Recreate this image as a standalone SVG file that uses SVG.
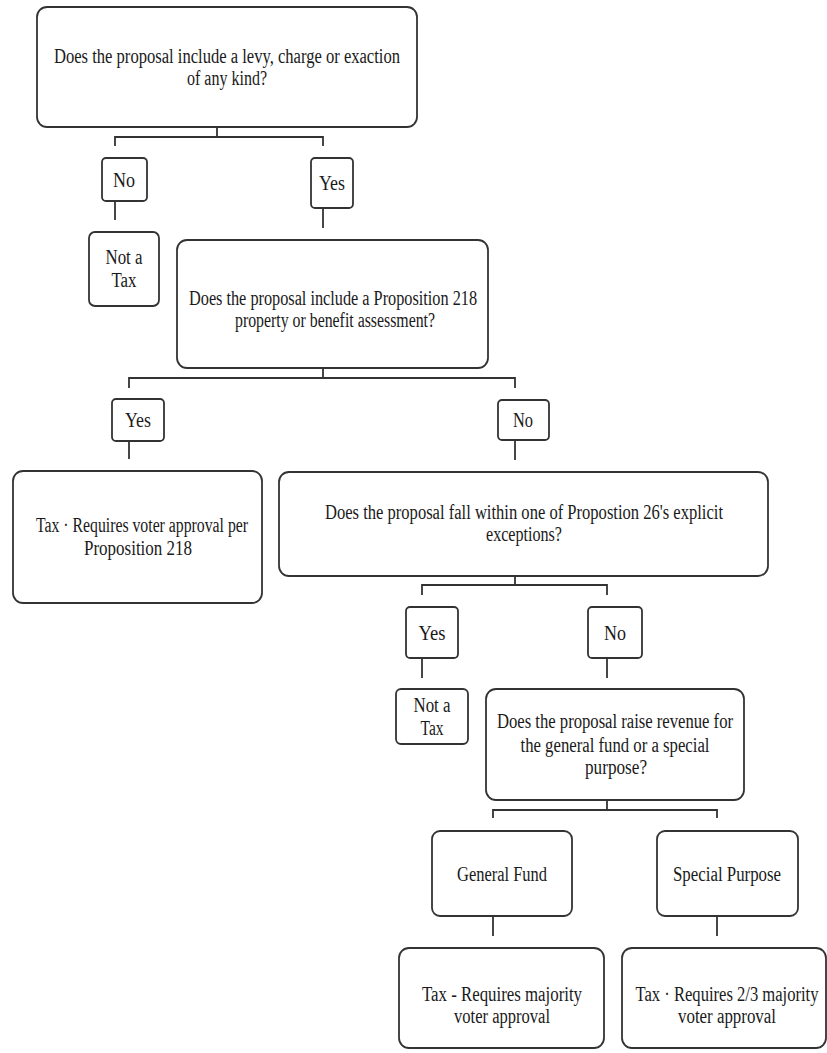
<svg xmlns="http://www.w3.org/2000/svg" width="827" height="1053" viewBox="0 0 827 1053">
<style>
.b{fill:#fff;stroke:#333;stroke-width:1.8}
.t{font-family:"Liberation Serif","Times New Roman",serif;font-size:17px;fill:#1a1a1a;text-anchor:middle}
.c{fill:none;stroke:#333;stroke-width:1.8}
</style>
<rect width="827" height="1053" fill="#fff"/>
<g id="connectors">
<path class="c" d="M217,127V137M115,146V137H323V146"/>
<path class="c" d="M115,201V220"/>
<path class="c" d="M323,208V228"/>
<path class="c" d="M323,368V378M129,388V378H515V388"/>
<path class="c" d="M129,441V459"/>
<path class="c" d="M515,440V460"/>
<path class="c" d="M515,576V585M422,595V585H607V595"/>
<path class="c" d="M422,658V678"/>
<path class="c" d="M607,658V678"/>
<path class="c" d="M607,800V810M493,818V810H717V818"/>
<path class="c" d="M493,916V936"/>
<path class="c" d="M717,916V936"/>
</g>
<g id="q1">
<rect class="b" x="37" y="7" width="380" height="120" rx="10"/>
<text class="t" transform="translate(227,63) scale(1,1.24)" textLength="346" lengthAdjust="spacingAndGlyphs">Does the proposal include a levy, charge or exaction</text>
<text class="t" transform="translate(227,85) scale(1,1.24)" textLength="80" lengthAdjust="spacingAndGlyphs">of any kind?</text>
</g>
<g id="no1">
<rect class="b" x="102" y="158" width="45" height="43" rx="4"/>
<text class="t" transform="translate(124,187) scale(1,1.24)" textLength="22" lengthAdjust="spacingAndGlyphs">No</text>
</g>
<g id="yes1">
<rect class="b" x="311" y="158" width="42" height="50" rx="4"/>
<text class="t" transform="translate(332,190) scale(1,1.24)" textLength="26" lengthAdjust="spacingAndGlyphs">Yes</text>
</g>
<g id="nottax1">
<rect class="b" x="89" y="232" width="70" height="74" rx="6"/>
<text class="t" transform="translate(124,264) scale(1,1.24)" textLength="37" lengthAdjust="spacingAndGlyphs">Not a</text>
<text class="t" transform="translate(124,287) scale(1,1.24)" textLength="25" lengthAdjust="spacingAndGlyphs">Tax</text>
</g>
<g id="q2">
<rect class="b" x="177" y="240" width="311" height="128" rx="10"/>
<text class="t" transform="translate(333,305) scale(1,1.24)" textLength="288" lengthAdjust="spacingAndGlyphs">Does the proposal include a Proposition 218</text>
<text class="t" transform="translate(335,327) scale(1,1.24)" textLength="200" lengthAdjust="spacingAndGlyphs">property or benefit assessment?</text>
</g>
<g id="yes2">
<rect class="b" x="112" y="399" width="52" height="42" rx="4"/>
<text class="t" transform="translate(138,427) scale(1,1.24)" textLength="26" lengthAdjust="spacingAndGlyphs">Yes</text>
</g>
<g id="no2">
<rect class="b" x="498" y="400" width="51" height="40" rx="4"/>
<text class="t" transform="translate(523,427) scale(1,1.24)" textLength="20" lengthAdjust="spacingAndGlyphs">No</text>
</g>
<g id="tax218">
<rect class="b" x="13" y="471" width="249" height="132" rx="10"/>
<text class="t" transform="translate(142,532) scale(1,1.24)" textLength="212" lengthAdjust="spacingAndGlyphs">Tax · Requires voter approval per</text>
<text class="t" transform="translate(138,555) scale(1,1.24)" textLength="108" lengthAdjust="spacingAndGlyphs">Proposition 218</text>
</g>
<g id="q3">
<rect class="b" x="279" y="472" width="489" height="104" rx="10"/>
<text class="t" transform="translate(524,519) scale(1,1.24)" textLength="398" lengthAdjust="spacingAndGlyphs">Does the proposal fall within one of Propostion 26's explicit</text>
<text class="t" transform="translate(524,541) scale(1,1.24)" textLength="76" lengthAdjust="spacingAndGlyphs">exceptions?</text>
</g>
<g id="yes3">
<rect class="b" x="406" y="607" width="52" height="51" rx="4"/>
<text class="t" transform="translate(432,640) scale(1,1.24)" textLength="27" lengthAdjust="spacingAndGlyphs">Yes</text>
</g>
<g id="no3">
<rect class="b" x="588" y="607" width="54" height="51" rx="4"/>
<text class="t" transform="translate(615,640) scale(1,1.24)" textLength="22" lengthAdjust="spacingAndGlyphs">No</text>
</g>
<g id="nottax2">
<rect class="b" x="396" y="689" width="72" height="55" rx="5"/>
<text class="t" transform="translate(432,712) scale(1,1.24)" textLength="37" lengthAdjust="spacingAndGlyphs">Not a</text>
<text class="t" transform="translate(432,735) scale(1,1.24)" textLength="23" lengthAdjust="spacingAndGlyphs">Tax</text>
</g>
<g id="q4">
<rect class="b" x="486" y="689" width="258" height="111" rx="10"/>
<text class="t" transform="translate(615,728) scale(1,1.24)" textLength="236" lengthAdjust="spacingAndGlyphs">Does the proposal raise revenue for</text>
<text class="t" transform="translate(615,752) scale(1,1.24)" textLength="189" lengthAdjust="spacingAndGlyphs">the general fund or a special</text>
<text class="t" transform="translate(616,774) scale(1,1.24)" textLength="62" lengthAdjust="spacingAndGlyphs">purpose?</text>
</g>
<g id="general">
<rect class="b" x="432" y="831" width="140" height="85" rx="8"/>
<text class="t" transform="translate(502,881) scale(1,1.24)" textLength="90" lengthAdjust="spacingAndGlyphs">General Fund</text>
</g>
<g id="special">
<rect class="b" x="657" y="831" width="141" height="85" rx="8"/>
<text class="t" transform="translate(727,881) scale(1,1.24)" textLength="108" lengthAdjust="spacingAndGlyphs">Special Purpose</text>
</g>
<g id="taxmaj">
<rect class="b" x="399" y="948" width="205" height="100" rx="10"/>
<text class="t" transform="translate(502,1001) scale(1,1.24)" textLength="160" lengthAdjust="spacingAndGlyphs">Tax - Requires majority</text>
<text class="t" transform="translate(502,1023) scale(1,1.24)" textLength="96" lengthAdjust="spacingAndGlyphs">voter approval</text>
</g>
<g id="tax23">
<rect class="b" x="622" y="948" width="204" height="100" rx="10"/>
<text class="t" transform="translate(727,1001) scale(1,1.24)" textLength="183" lengthAdjust="spacingAndGlyphs">Tax · Requires 2/3 majority</text>
<text class="t" transform="translate(727,1023) scale(1,1.24)" textLength="98" lengthAdjust="spacingAndGlyphs">voter approval</text>
</g>
</svg>
